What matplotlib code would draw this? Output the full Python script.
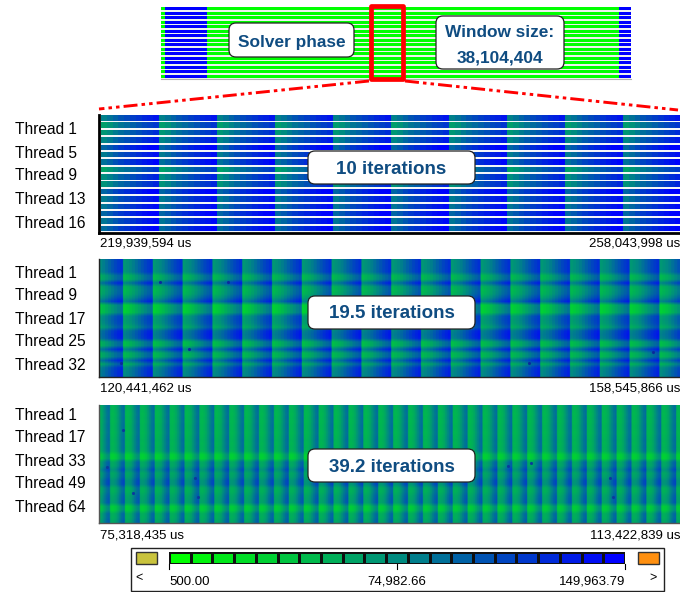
import numpy as np
import matplotlib
matplotlib.use("Agg")
import matplotlib.pyplot as plt
from matplotlib.colors import LinearSegmentedColormap
from matplotlib.patches import FancyBboxPatch, Rectangle

plt.rcParams["font.family"] = ["Liberation Sans", "DejaVu Sans"]

W, H = 680, 592

# heat values: 0 = low end of the scale (green), 1 = high end (blue)
overview_cols = [0.0, 1.0, 0.0, 1.0]
overview_widths = [4, 42, 412, 12]

p1_labels = ["Thread 1", "Thread 5", "Thread 9", "Thread 13", "Thread 16"]
p1_rows = [0.02, -0.1, -0.07, 0.0, 0.12, 0.04, 0.08, -0.12, -0.03, -0.05, 0.12, 0.04, 0.06, 0.12, 0.06, 0.1]
p1_profile = [0.52, 0.57, 0.63, 0.68, 0.72, 0.76, 0.8, 0.84, 0.87, 0.91]

p2_labels = ["Thread 1", "Thread 9", "Thread 17", "Thread 25", "Thread 32"]
p2_rows = [0.05, 0.05, 0.05, 0.05, -0.1, -0.1, 0.12, -0.08, -0.1, -0.08, 0.0, 0.12, -0.2, -0.2, -0.2, 0.0,
           0.02, 0.0, -0.06, 0.12, 0.14, 0.12, -0.12, -0.12, 0.12, -0.1, -0.1, 0.12, -0.08, 0.08, 0.1, 0.1]
p2_profile = [0.4, 0.43, 0.46, 0.5, 0.55, 0.6, 0.65, 0.7, 0.74, 0.78]
p2_specks_x = [160, 228, 189, 121, 653, 529]
p2_specks_y = [282, 282, 349, 363, 352, 363]

p3_labels = ["Thread 1", "Thread 17", "Thread 33", "Thread 49", "Thread 64"]
p3_rows = [0.0, 0.0, -0.01, 0.0, -0.01, 0.0, 0.0, -0.01, 0.0, 0.01, 0.0, 0.01, 0.0, -0.12, -0.12, 0.05,
           0.06, 0.14, 0.06, 0.08, 0.14, 0.14, 0.02, 0.02, 0.06, 0.08, 0.08, -0.1, -0.1, 0.03, 0.03, 0.06]
p3_profile = [0.33, 0.32, 0.34, 0.38, 0.45, 0.52, 0.58, 0.61]
p3_specks_x = [123, 107, 133, 195, 198, 508, 531, 610, 613]
p3_specks_y = [430, 467, 493, 478, 497, 466, 463, 478, 497]

start_labels = ["219,939,594 us", "120,441,462 us", "75,318,435 us"]
end_labels = ["258,043,998 us", "158,545,866 us", "113,422,839 us"]
box_labels = ["10 iterations", "19.5 iterations", "39.2 iterations"]
scale_labels = ["500.00", "74,982.66", "149,963.79"]
swatches = np.arange(21) / 20

cmap = LinearSegmentedColormap.from_list("solver", ["#00ff00", "#008c80", "#0000ff"])
TEXT_BLUE = "#0f4c81"


def px_axes(fig, x0, y0, x1, y1):
    return fig.add_axes([x0 / W, 1 - y1 / H, (x1 - x0) / W, (y1 - y0) / H])


def heat(fig, box, rows, profile, period, first, gaps=False):
    # one column per profile step, repeated over each iteration
    ax = px_axes(fig, *box)
    x0, y0, x1, y1 = box
    n_iter = int((x1 - first) / period) + 3
    cols = np.tile(profile, n_iter)
    xe = first - period + np.arange(len(cols) + 1) * period / len(profile)
    data = np.clip(np.add.outer(np.array(rows), cols), 0, 1)
    n = len(rows)
    ye = np.arange(n + 1) * (y1 - y0) / n
    if gaps:
        ax.pcolormesh(xe, ye, data, cmap=cmap, vmin=0, vmax=1, shading="flat")
        for e in ye[1:]:
            ax.axhspan(e - 1.8, e, color="#f4f6f8", lw=0)
    else:
        # the source image is slightly soft; repeating columns keeps iteration edges sharp
        ax.imshow(np.repeat(data, 4, axis=1), cmap=cmap, vmin=0, vmax=1, aspect="auto",
                  interpolation="bilinear", extent=[xe[0], xe[-1], y1 - y0, 0])
    ax.set_xlim(x0, x1)
    ax.set_ylim(y1 - y0, 0)
    ax.set_xticks([])
    ax.set_yticks([])
    for s in ["top", "right"]:
        ax.spines[s].set_visible(False)
    return ax


fig = plt.figure(figsize=(W / 100, H / 100), dpi=100)

# overview strip
ax = px_axes(fig, 161, 7, 631, 79)
xe = np.concatenate([[0], np.cumsum(overview_widths)])
n_rows = 16
ye = np.arange(n_rows + 1) * 72 / n_rows
ax.pcolormesh(xe, ye, np.tile(overview_cols, (n_rows, 1)), cmap=cmap, vmin=0, vmax=1, shading="flat")
ax.set_ylim(72, 0)
for e in ye[1:]:
    ax.axhspan(e - 1.3, e, color="#eef2ee", lw=0)
ax.set_xticks([])
ax.set_yticks([])
for s in ["top", "right", "left"]:
    ax.spines[s].set_visible(False)
ax.spines["bottom"].set_color("#b0b0b0")

a1 = heat(fig, (99, 115, 680, 233), p1_rows, p1_profile, 58, 159, gaps=True)
a2 = heat(fig, (99, 259, 680, 377), p2_rows, p2_profile, 29.8, 123)
a3 = heat(fig, (99, 405, 680, 523), p3_rows, p3_profile, 14.9, 110)
for a, lw, col in [(a1, 2, "black"), (a2, 1, "#222222"), (a3, 1, "#555555")]:
    a.spines["left"].set_linewidth(lw)
    a.spines["bottom"].set_linewidth(lw)
    a.spines["left"].set_color(col)
    a.spines["bottom"].set_color(col)

# overlay in pixel coordinates for callouts, labels and the scale
ov = fig.add_axes([0, 0, 1, 1], zorder=5)
ov.set_xlim(0, W)
ov.set_ylim(H, 0)
ov.axis("off")

ov.scatter(p2_specks_x, p2_specks_y, s=5, color="#0a2a9c", lw=0)
ov.scatter(p3_specks_x, p3_specks_y, s=5, color="#0a3a9c", lw=0)


def callout(x0, y0, x1, y1, lines, size):
    ov.add_patch(FancyBboxPatch((x0 + 6, y0 + 6), x1 - x0 - 12, y1 - y0 - 12, boxstyle="round,pad=6,rounding_size=7",
                                fc="white", ec="#222222", lw=0.9))
    for y, t in lines:
        ov.text((x0 + x1) / 2, y + 1.5, t, color=TEXT_BLUE, fontsize=size, fontweight="bold", ha="center", va="center")


callout(229, 23, 354, 57, [(40.5, "Solver phase")], 12.4)
callout(436, 16, 564, 69, [(31, "Window size:"), (56.5, "38,104,404")], 12.4)

ov.add_patch(Rectangle((370.5, 5.5), 32, 73, fill=False, ec="#ff0000", lw=3.4, joinstyle="round"))
dash = (0, (4.8, 1.4, 1.2, 1.4, 1.2, 1.4))
ov.plot([369, 99], [81, 109], color="#ff0000", lw=2.1, ls=dash)
ov.plot([405, 678], [81, 110], color="#ff0000", lw=2.1, ls=dash)

for labels, ys in [(p1_labels, [129, 152, 175, 199, 222]),
                   (p2_labels, [272, 295, 318, 341, 364]),
                   (p3_labels, [414, 437, 460, 483, 507])]:
    for t, y in zip(labels, ys):
        ov.text(15, y + 1, t, fontsize=11.2, ha="left", va="center", color="black")

for s, e, y in zip(start_labels, end_labels, [242, 387, 534]):
    ov.text(100, y + 1.5, s, fontsize=9.5, ha="left", va="center")
    ov.text(680, y + 1.5, e, fontsize=9.5, ha="right", va="center")

for t, (y0, y1) in zip(box_labels, [(151, 184), (296, 329), (449, 482)]):
    callout(308, y0, 475, y1, [((y0 + y1) / 2, t)], 13.5)

# colour scale
ov.add_patch(Rectangle((130.5, 547.5), 533, 43, fc="white", ec="#222222", lw=1))
sw = px_axes(fig, 169, 552, 625, 564)
sw.set_zorder(6)
sw.pcolormesh(np.arange(22), [0, 1], swatches[None, :], cmap=cmap, vmin=0, vmax=1, edgecolors="#111111", lw=1)
sw.axis("off")
ov.add_patch(Rectangle((136, 552), 21, 12, fc="#c9c33d", ec="#333333", lw=1))
ov.add_patch(Rectangle((638, 552), 21, 12, fc="#ff9010", ec="#333333", lw=1))
for x in [169, 397, 625]:
    ov.plot([x, x], [564, 569], color="black", lw=0.8)
ov.text(169, 582, scale_labels[0], fontsize=9.5, ha="left", va="center")
ov.text(397, 582, scale_labels[1], fontsize=9.5, ha="center", va="center")
ov.text(625, 582, scale_labels[2], fontsize=9.5, ha="right", va="center")
ov.text(139, 578, "<", fontsize=9, ha="center", va="center")
ov.text(653, 578, ">", fontsize=9, ha="center", va="center")

fig.savefig("out.png", dpi=100)
